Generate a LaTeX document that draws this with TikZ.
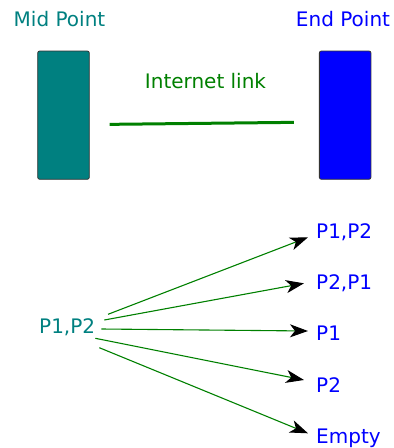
\documentclass[tikz,border=0pt]{standalone}
\usepackage{fontspec}
\setmainfont{DejaVu Sans}
\usetikzlibrary{arrows.meta,calc}

\definecolor{midteal}{RGB}{0,128,128}
\definecolor{endblue}{RGB}{0,0,255}
\definecolor{linkgreen}{RGB}{0,128,0}

\begin{document}
\begin{tikzpicture}[x=1pt,y=-1pt,
    lbl/.style={font=\fontsize{20}{24}\selectfont, inner sep=0pt},
    hostbox/.style={draw=black!80, line width=0.8pt, rounded corners=2pt,
        minimum width=51.6pt, minimum height=128.3pt, inner sep=0pt},
    pktarrow/.style={draw=linkgreen, line width=1.1pt,
        -{Stealth[black, length=18pt, width=13pt, inset=5pt]}}]
            \useasboundingbox (0,0) rectangle (394,448);

            % Hosts
            \node[lbl, text=midteal, anchor=base] (midlbl) at (59.5,26) {Mid Point};
            \node[lbl, text=endblue, anchor=base] (endlbl) at (343,26) {End Point};
            \node[hostbox, fill=midteal] (midbox) at (63.5,115.15) {};
            \node[hostbox, fill=endblue] (endbox) at (345.15,115.15) {};

            % Link between them
            \node[lbl, text=linkgreen, anchor=base] (linklbl) at (205.5,88.3) {Internet link};
            \draw[linkgreen, line width=3pt] ($(midbox.east)+(20,9.2)$) -- ($(endbox.west)+(-25,7.2)$);

            % Packet orders
            \node[lbl, text=midteal, anchor=base west] (sent) at (39,333) {P1,P2};
            \node[lbl, text=endblue, anchor=base west] (o1) at (316,238) {P1,P2};
            \node[lbl, text=endblue, anchor=base west] (o2) at (316,289) {P2,P1};
            \node[lbl, text=endblue, anchor=base west] (o3) at (316,340) {P1};
            \node[lbl, text=endblue, anchor=base west] (o4) at (316,392) {P2};
            \node[lbl, text=endblue, anchor=base west] (o5) at (316,443) {Empty};

            \draw[pktarrow] ($(sent.base east)+(12.7,-18.7)$) -- ($(o1.base west)+(-8,-0.7)$);
            \draw[pktarrow] ($(sent.base east)+(9,-13)$) -- ($(o2.base west)+(-12,-5.7)$);
            \draw[pktarrow] ($(sent.base east)+(6,-4)$) -- ($(o3.base west)+(-8,-9)$);
            \draw[pktarrow] ($(sent.base east)+(0,5.3)$) -- ($(o4.base west)+(-12,-12)$);
            \draw[pktarrow] ($(sent.base east)+(4,14.7)$) -- ($(o5.base west)+(-8,-9.7)$);
\end{tikzpicture}
\end{document}
